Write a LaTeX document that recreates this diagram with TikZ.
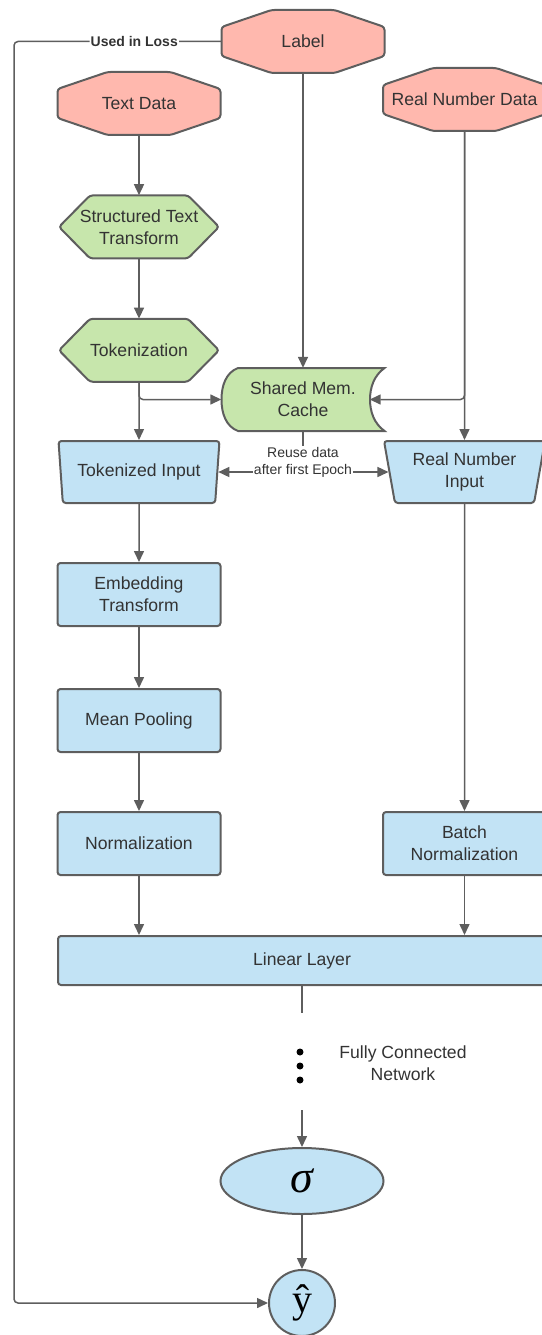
\documentclass[tikz,border=0pt]{standalone}
\usepackage{fontspec}
\setmainfont{Liberation Sans}
\newfontfamily\glyphserif{Liberation Serif}
\usetikzlibrary{positioning,shapes.geometric,arrows.meta,backgrounds}

\definecolor{inred}{HTML}{FFB8AE}
\definecolor{procgreen}{HTML}{C7E6AC}
\definecolor{layerblue}{HTML}{C2E3F5}
\definecolor{edgegray}{HTML}{5E5E5E}
\definecolor{txtgray}{HTML}{333333}

\tikzset{
  every node/.style={text=txtgray, font=\fontsize{17.6}{22}\selectfont, align=center},
  shapeline/.style={draw=edgegray, line width=2pt, rounded corners=3pt},
  holder/.style={minimum width=163pt, minimum height=63pt, inner sep=0pt},
  hexa/.style={minimum width=160pt, minimum height=63pt, inner sep=0pt},
  layer/.style={shapeline, fill=layerblue, minimum width=163pt, minimum height=63pt, inner sep=0pt},
  feed/.style={shapeline, fill=layerblue, trapezium, trapezium left angle=102, trapezium right angle=102,
    trapezium stretches=true, minimum width=161pt, minimum height=62pt, inner sep=0pt},
  arrow/.style={draw=edgegray, line width=1.5pt, -{Triangle[length=11pt,width=10pt]}},
  wire/.style={draw=edgegray, line width=1.5pt},
  note/.style={fill=white, inner sep=1pt, font=\fontsize{14}{17}\selectfont},
}

\begin{document}
\begin{tikzpicture}[x=1pt,y=1pt]
    \useasboundingbox (0,0) rectangle (541,-1335);

    % inputs
    \node[holder] (label) at (303,-41.5) {Label};
    \node[holder] (textdata) at (139,-103.5) {Text Data};
    \node[holder] (realdata) at (464.5,-99.5) {Real Number Data};

    % text branch
    \node[hexa, below=60pt of textdata] (structured) {Structured Text\\Transform};
    \node[hexa, below=60pt of structured] (tokenize) {Tokenization};
    \node[feed, below=58pt of tokenize] (tokin) {Tokenized Input};
    \node[holder] (cache) at (303,-399.5) {Shared Mem.\\Cache};
    \coordinate (cachenotch) at ([xshift=-15pt]cache.east);
    \node[feed] (realin) at (tokin -| realdata) {Real Number\\Input};
    \node[note] (reuse) at (303,-462.5) {Reuse data\\after first Epoch};

    \node[layer, below=58pt of tokin] (embed) {Embedding\\Transform};
    \node[layer, below=61pt of embed] (meanpool) {Mean Pooling};
    \node[layer, below=58pt of meanpool] (norm) {Normalization};
    \node[layer] (batch) at (norm -| realdata) {Batch\\Normalization};
    \node[layer, minimum width=488pt, minimum height=49pt] (linear) at (302,-960.5) {Linear Layer};

    % fully connected part
    \coordinate (fcntop) at (302,-1013);
    \coordinate (fcnbot) at (302,-1110);
    \foreach \y in {1052,1066,1080}
        \fill (300,-\y) circle (3.5pt);
    \node (fcnnote) at (403,-1063) {Fully Connected\\Network};
    \node[ellipse, shapeline, fill=layerblue, minimum width=163pt, minimum height=66pt, inner sep=0pt,
        font=\glyphserif\itshape\fontsize{46}{46}\selectfont, text=black] (sigma) at (302,-1181) {σ};
    \node[circle, shapeline, fill=layerblue, minimum size=66pt, inner sep=0pt,
        font=\glyphserif\fontsize{40}{40}\selectfont, text=black] (yhat) at (302,-1303) {ŷ};
    \coordinate (losscorner) at (14,-41.5);

    \begin{scope}[on background layer]
        \foreach \n in {label,textdata,realdata}
            \draw[shapeline, fill=inred, shift={(\n.center)}]
                (-31.5,31.5) -- (31.5,31.5) -- (81.5,14.5) -- (81.5,-14.5) -- (31.5,-31.5)
                -- (-31.5,-31.5) -- (-81.5,-14.5) -- (-81.5,14.5) -- cycle;
        \foreach \n in {structured,tokenize}
            \draw[shapeline, fill=procgreen, shift={(\n.center)}]
                (-49,31.5) -- (49,31.5) -- (80,0) -- (49,-31.5) -- (-49,-31.5) -- (-80,0) -- cycle;
        \draw[shapeline, sharp corners, fill=procgreen, shift={(cache.center)}]
            (-65,31.5) -- (81.5,31.5) .. controls (71,24) and (67,12) .. (67,0)
            .. controls (67,-12) and (71,-24) .. (81.5,-31.5) -- (-65,-31.5)
            .. controls (-77,-27) and (-81.5,-14) .. (-81.5,0)
            .. controls (-81.5,14) and (-77,27) .. (-65,31.5) -- cycle;
    \end{scope}

    % connectors
    \draw[arrow] (textdata) -- (structured);
    \draw[arrow] (structured) -- (tokenize);
    \draw[arrow] (tokenize) -- (tokin);
    \draw[arrow, rounded corners=4pt] (tokenize.south) |- (cache.west);
    \draw[arrow] (label) -- (cache);
    \draw[arrow] (realdata) -- (realin);
    \draw[arrow, rounded corners=4pt] (realdata.south) |- (cachenotch);
    \draw[wire] (cache) -- (reuse);
    \draw[arrow] (reuse.west |- tokin.east) -- (tokin.east);
    \draw[arrow] (reuse.east |- realin.west) -- (realin.west);
    \draw[arrow] (tokin) -- (embed);
    \draw[arrow] (embed) -- (meanpool);
    \draw[arrow] (meanpool) -- (norm);
    \draw[arrow] (norm.south) -- (norm.south |- linear.north);
    \draw[arrow] (realin) -- (batch);
    \draw[arrow] (batch.south) -- (batch.south |- linear.north);
    \draw[wire] (linear.south) -- (fcntop);
    \draw[arrow] (fcnbot) -- (sigma);
    \draw[arrow] (sigma) -- (yhat);
    \draw[arrow, rounded corners=4pt] (label.west) -- node[note, pos=0.42, font=\bfseries\fontsize{14}{17}\selectfont] {Used in Loss}
        (losscorner) |- (yhat.west);
\end{tikzpicture}
\end{document}
